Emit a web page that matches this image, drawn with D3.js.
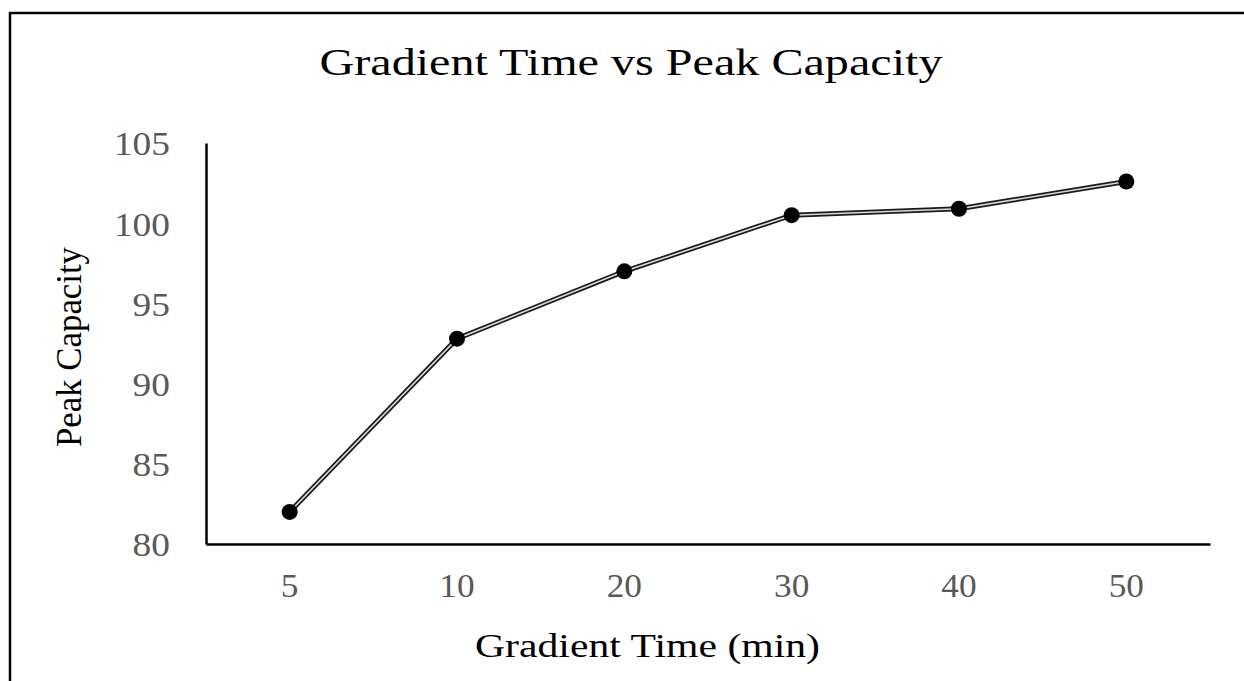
<!DOCTYPE html>
<html>
<head>
<meta charset="utf-8">
<script src="https://cdn.jsdelivr.net/npm/d3@7"></script>
<style>
  html, body { margin: 0; padding: 0; background: #fff; }
  svg { display: block; }
</style>
</head>
<body>
<svg id="chart" width="1244" height="681"></svg>
<script>
// Gradient time (min) categories and measured peak capacity
const gradientTimes = ["5", "10", "20", "30", "40", "50"];
const peakCapacity = [82.0, 92.8, 97.0, 100.5, 100.9, 102.6];
const yTicks = [80, 85, 90, 95, 100, 105];

const svg = d3.select("#chart");
const W = 1244, H = 681;
const plot = { left: 206, right: 1210, top: 143, bottom: 544 };
const serif = "'Liberation Serif', 'Times New Roman', serif";

// widen a text element horizontally by a factor, keeping its anchor
function widen(sel, factor) {
  sel.each(function () {
    const len = this.getComputedTextLength();
    d3.select(this)
      .attr("textLength", len * factor)
      .attr("lengthAdjust", "spacingAndGlyphs");
  });
}

// outer frame
svg.append("rect")
  .attr("x", 10).attr("y", 13)
  .attr("width", W + 20).attr("height", H + 20)
  .attr("fill", "#fff").attr("stroke", "#000").attr("stroke-width", 2.5);

const x = d3.scaleBand().domain(gradientTimes).range([plot.left, plot.right]);
const y = d3.scaleLinear().domain([80, 105]).range([plot.bottom, plot.top]);

// x axis
const xAxis = svg.append("g")
  .attr("transform", `translate(0,${plot.bottom})`)
  .call(d3.axisBottom(x).tickSize(0).tickPadding(29).tickSizeOuter(0));
xAxis.select(".domain").attr("stroke", "#000").attr("stroke-width", 2.5);
xAxis.selectAll("text")
  .attr("font-family", serif).attr("font-size", 33)
  .attr("fill", "#595959").attr("dy", "0.72em")
  .call(widen, 1.07);

// y axis
const yAxis = svg.append("g")
  .attr("transform", `translate(${plot.left},0)`)
  .call(d3.axisLeft(y).tickValues(yTicks).tickSize(0).tickPadding(36).tickSizeOuter(0));
yAxis.select(".domain").attr("stroke", "#000").attr("stroke-width", 2.5);
yAxis.selectAll("text")
  .attr("font-family", serif).attr("font-size", 34)
  .attr("fill", "#595959").attr("dy", "0.35em")
  .call(widen, 1.1);

// series: double line (dark outer stroke, light core) with round markers
const line = d3.line()
  .x((d, i) => x(gradientTimes[i]) + x.bandwidth() / 2)
  .y(d => y(d));

svg.append("path").datum(peakCapacity)
  .attr("d", line).attr("fill", "none")
  .attr("stroke", "#1a1a1a").attr("stroke-width", 5);
svg.append("path").datum(peakCapacity)
  .attr("d", line).attr("fill", "none")
  .attr("stroke", "#d8d8d8").attr("stroke-width", 1.6);

svg.append("g").selectAll("circle")
  .data(peakCapacity)
  .join("circle")
  .attr("cx", (d, i) => x(gradientTimes[i]) + x.bandwidth() / 2)
  .attr("cy", d => y(d))
  .attr("r", 8)
  .attr("fill", "#000");

// titles
svg.append("text")
  .attr("x", 631).attr("y", 75)
  .attr("text-anchor", "middle")
  .attr("font-family", serif).attr("font-size", 38)
  .attr("fill", "#000")
  .attr("textLength", 623).attr("lengthAdjust", "spacingAndGlyphs")
  .text("Gradient Time vs Peak Capacity");

svg.append("text")
  .attr("x", 475).attr("y", 657)
  .attr("text-anchor", "start")
  .attr("font-family", serif).attr("font-size", 33)
  .attr("fill", "#000")
  .attr("textLength", 345).attr("lengthAdjust", "spacingAndGlyphs")
  .text("Gradient Time (min)");

svg.append("text")
  .attr("transform", "translate(81,347) rotate(-90)")
  .attr("text-anchor", "middle")
  .attr("font-family", serif).attr("font-size", 35)
  .attr("fill", "#000")
  .attr("textLength", 200).attr("lengthAdjust", "spacingAndGlyphs")
  .text("Peak Capacity");
</script>
</body>
</html>
